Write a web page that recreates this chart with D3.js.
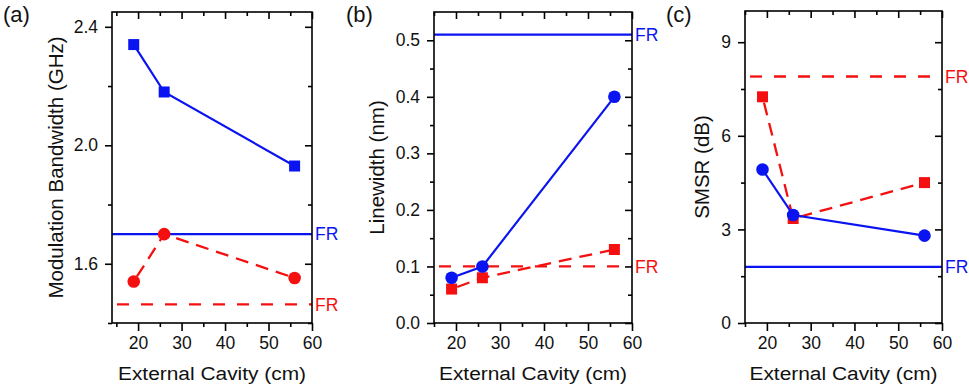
<!DOCTYPE html>
<html><head><meta charset="utf-8">
<script src="https://cdn.jsdelivr.net/npm/d3@7"></script>
<style>body{margin:0;background:#fff}svg{display:block}text{font-family:"Liberation Sans",Arial,sans-serif}</style>
</head><body>
<svg id="c" width="969" height="388"></svg>
<script>
const cavity = [19, 26, 56];
// (a) Modulation bandwidth
const bwBlue = [2.34, 2.18, 1.93];
const bwRed = [1.54, 1.70, 1.552];
const bwFRBlue = 1.70, bwFRRed = 1.463;
// (b) Linewidth
const lwBlue = [0.08, 0.10, 0.40];
const lwRed = [0.06, 0.08, 0.13];
const lwFRBlue = 0.51, lwFRRed = 0.10;
// (c) SMSR
const smBlue = [4.92, 3.46, 2.8];
const smRed = [7.25, 3.35, 4.5];
const smFRBlue = 1.8, smFRRed = 7.9;

const xTicks = [20, 30, 40, 50, 60];
const xMinor = [15, 25, 35, 45, 55];

const BLUE = "#0a14f0", RED = "#f41010";
const svg = d3.select("#c");

const panels = [
  {label:"(a)", box:[112,312,12,323], xd:[14,60], yd:[1.4,2.45], yt:[1.6,2.0,2.4], ym:[1.4,1.8,2.2], fmt:d3.format(".1f"),
   title:"Modulation Bandwidth (GHz)", tx:56, blue:bwBlue, red:bwRed, blueMark:"square", redMark:"circle", frB:bwFRBlue, frR:bwFRRed, lx:3},
  {label:"(b)", box:[434,632,12,323], xd:[15,60], yd:[0,0.55], yt:[0,0.1,0.2,0.3,0.4,0.5], ym:[0.05,0.15,0.25,0.35,0.45], fmt:d3.format(".1f"),
   title:"Linewidth (nm)", tx:377, blue:lwBlue, red:lwRed, blueMark:"circle", redMark:"square", frB:lwFRBlue, frR:lwFRRed, lx:346},
  {label:"(c)", box:[745,942,11,323], xd:[15,60], yd:[0,10], yt:[0,3,6,9], ym:[1.5,4.5,7.5], fmt:d3.format("d"),
   title:"SMSR (dB)", tx:702, blue:smBlue, red:smRed, blueMark:"circle", redMark:"square", frB:smFRBlue, frR:smFRRed, lx:666}
];

panels.forEach(p => {
  const [x0,x1,y0,y1] = p.box;
  const x = d3.scaleLinear().domain(p.xd).range([x0,x1]);
  const y = d3.scaleLinear().domain(p.yd).range([y1,y0]);
  const g = svg.append("g");

  // FR lines
  g.append("line").attr("x1",x0).attr("x2",x1).attr("y1",y(p.frB)).attr("y2",y(p.frB))
    .attr("stroke",BLUE).attr("stroke-width",2.2);
  g.append("line").attr("x1",x0).attr("x2",x1).attr("y1",y(p.frR)).attr("y2",y(p.frR))
    .attr("stroke",RED).attr("stroke-width",2.3).attr("stroke-dasharray","12,12").attr("stroke-dashoffset",19);
  g.append("text").attr("x",x1+3).attr("y",y(p.frB)).attr("dy","0.36em").attr("fill",BLUE).attr("font-size",17.5).text("FR");
  g.append("text").attr("x",x1+3).attr("y",y(p.frR)).attr("dy","0.36em").attr("fill",RED).attr("font-size",17.5).text("FR");

  // series lines
  const line = d3.line().x((d,i)=>x(cavity[i])).y(d=>y(d));
  g.append("path").attr("d",line(p.red)).attr("fill","none").attr("stroke",RED).attr("stroke-width",2.3).attr("stroke-dasharray","13,8").attr("stroke-dashoffset",-6);
  g.append("path").attr("d",line(p.blue)).attr("fill","none").attr("stroke",BLUE).attr("stroke-width",2.2);

  const drawMarks = (vals, kind, col) => {
    if (kind === "square") {
      g.selectAll(null).data(vals).join("rect")
        .attr("x",(d,i)=>x(cavity[i])-5.5).attr("y",d=>y(d)-5.5).attr("width",11).attr("height",11).attr("fill",col);
    } else {
      g.selectAll(null).data(vals).join("circle")
        .attr("cx",(d,i)=>x(cavity[i])).attr("cy",d=>y(d)).attr("r",6.3).attr("fill",col);
    }
  };
  drawMarks(p.red, p.redMark, RED);
  drawMarks(p.blue, p.blueMark, BLUE);

  // frame
  g.append("rect").attr("x",x0).attr("y",y0).attr("width",x1-x0).attr("height",y1-y0)
    .attr("fill","none").attr("stroke","#000").attr("stroke-width",1.6);

  // bottom axis
  const bx = g.append("g").attr("transform",`translate(0,${y1})`)
    .call(d3.axisBottom(x).tickValues(xTicks).tickSize(8).tickPadding(6).tickFormat(d3.format("d")));
  bx.append("g").call(d3.axisBottom(x).tickValues(xMinor).tickSize(4).tickFormat(""));
  // top axis inward
  const tx = g.append("g").attr("transform",`translate(0,${y0})`)
    .call(d3.axisBottom(x).tickValues(xTicks).tickSize(7).tickFormat(""));
  tx.append("g").call(d3.axisBottom(x).tickValues(xMinor).tickSize(4).tickFormat(""));
  // left axis
  const ly = g.append("g").attr("transform",`translate(${x0},0)`)
    .call(d3.axisLeft(y).tickValues(p.yt).tickSize(7).tickPadding(7).tickFormat(p.fmt));
  ly.append("g").call(d3.axisLeft(y).tickValues(p.ym).tickSize(4).tickFormat(""));
  // right axis inward
  const ry = g.append("g").attr("transform",`translate(${x1},0)`)
    .call(d3.axisLeft(y).tickValues(p.yt).tickSize(7).tickFormat(""));
  ry.append("g").call(d3.axisLeft(y).tickValues(p.ym).tickSize(4).tickFormat(""));

  g.selectAll(".domain").remove();
  g.selectAll(".tick line").attr("stroke","#000").attr("stroke-width",1.6);
  g.selectAll(".tick text").attr("font-size",17.5).attr("fill","#111").style("font-family","Liberation Sans, Arial, sans-serif");

  // titles
  g.append("text").attr("transform",`translate(${(x0+x1)/2},380) scale(1.1,1)`).attr("text-anchor","middle")
    .attr("font-size",19).attr("fill","#111").text("External Cavity (cm)");
  g.append("text").attr("transform",`translate(${p.tx},${(y0+y1)/2}) rotate(-90)`).attr("text-anchor","middle").attr("dy","0.36em")
    .attr("font-size",20.5).attr("fill","#111").text(p.title);
  g.append("text").attr("x",p.lx).attr("y",22).attr("font-size",22).attr("fill","#111").text(p.label);
});
</script>
</body></html>
